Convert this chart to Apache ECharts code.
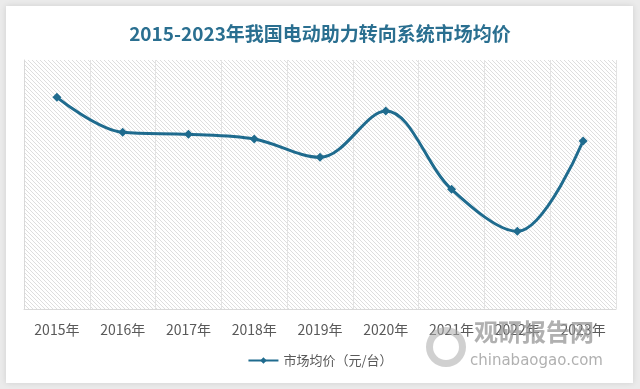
<!DOCTYPE html>
<html>
<head>
<meta charset="utf-8">
<script src="https://cdn.jsdelivr.net/npm/echarts@6/dist/echarts.min.js"></script>
<style>
html,body{margin:0;padding:0;background:#ebebeb;}
#c{width:640px;height:389px;}
</style>
</head>
<body>
<div id="c"></div>
<script>
var categories = ['2015年','2016年','2017年','2018年','2019年','2020年','2021年','2022年','2023年'];
var priceValues = [2125, 1774, 1754, 1707, 1523, 1988, 1202, 780, 1687];
var seriesName = '市场均价（元/台）';
var titleText = '2015-2023年我国电动助力转向系统市场均价';

var pc = document.createElement('canvas');
pc.width = 4; pc.height = 4;
var pctx = pc.getContext('2d');
pctx.fillStyle = '#ffffff';
pctx.fillRect(0,0,4,4);
pctx.fillStyle = '#dedede';
for (var i = 0; i < 4; i++) { pctx.fillRect(i, i, 1, 1); }

var chart = echarts.init(document.getElementById('c'), null, {renderer:'canvas'});
var font = '"Noto Sans CJK SC", "Noto Sans", sans-serif';
chart.setOption({
  backgroundColor: '#ebebeb',
  animation: false,
  textStyle: {fontFamily: font},
  graphic: [
    {type:'rect', z:-10, shape:{x:6,y:6,width:627,height:377}, style:{fill:'#ffffff', shadowBlur:6, shadowColor:'rgba(0,0,0,0.12)'}},
    {type:'text', z:10, left:474, top:320, style:{text:'观研报告网', font:'bold 24px "Noto Sans CJK SC"', fill:'rgba(150,150,150,0.75)'}},
    {type:'text', z:10, left:470, top:354, style:{text:'chinabaogao.com', font:'15px "DejaVu Sans", sans-serif', fill:'rgba(150,150,150,0.75)'}},
    {type:'ring', z:10, shape:{cx:446, cy:347, r:20, r0:13}, style:{fill:'rgba(170,170,170,0.55)'}}
  ],
  title: {
    text: titleText,
    left: 'center',
    top: 19,
    textStyle: {fontFamily: font, fontSize: 19, fontWeight: 'bold', color: '#2a6f90'}
  },
  legend: {
    bottom: 17,
    left: 'center',
    itemWidth: 30,
    itemHeight: 8,
    itemGap: 4,
    textStyle: {fontFamily: font, fontSize: 13, color: '#595959'},
    data: [seriesName]
  },
  grid: {
    left: 24, right: 24, top: 60, bottom: 80,
    show: true,
    borderWidth: 0,
    backgroundColor: {image: pc, repeat: 'repeat'}
  },
  xAxis: {
    type: 'category',
    data: categories,
    boundaryGap: true,
    axisLine: {show: true, lineStyle: {color: '#d9d9d9', width: 1}},
    axisTick: {show: false},
    axisLabel: {fontFamily: font, fontSize: 14, color: '#595959', margin: 14, interval: 0},
    splitLine: {show: true, lineStyle: {color: '#e3e3e3', width: 1}}
  },
  yAxis: {
    type: 'value',
    min: 0,
    max: 2500,
    interval: 500,
    axisLine: {show: true, lineStyle: {color: '#d9d9d9'}},
    axisTick: {show: false},
    axisLabel: {show: false},
    splitLine: {show: false}
  },
  series: [{
    name: seriesName,
    type: 'line',
    data: priceValues,
    smooth: 0.35,
    symbol: 'diamond',
    symbolSize: 9,
    itemStyle: {color: '#1f6b8e'},
    lineStyle: {color: '#1f6b8e', width: 3}
  }]
});
</script>
</body>
</html>
